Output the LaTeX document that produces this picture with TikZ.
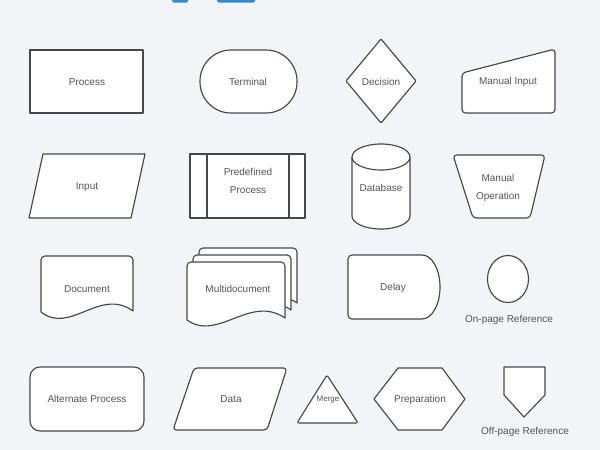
\documentclass[tikz,border=0pt]{standalone}
\usepackage{fontspec}
\setmainfont{Liberation Sans}
\definecolor{bgc}{HTML}{F3F4F8}
\definecolor{edgec}{HTML}{474747}
\definecolor{txtc}{HTML}{555555}
\definecolor{bluec}{HTML}{2E8CD4}
\begin{document}
\begin{tikzpicture}[x=1pt,y=-1pt,
  shp/.style={draw=edgec,fill=white,line width=1.15pt,line join=round},
  lbl/.style={text=txtc,font=\fontsize{10}{18}\selectfont,align=center,inner sep=0pt},
  smalllbl/.style={text=txtc,font=\fontsize{8}{10}\selectfont,inner sep=0pt}]
\fill[bgc] (0,0) rectangle (600,450);
\useasboundingbox (0,0) rectangle (600,450);
% blue bits at top
\fill[bluec,rounded corners=1.5] (172,-4) rectangle (188,2.5);
\fill[bluec,rounded corners=1.5] (217,-4) rectangle (255,2.5);

% Row 1
\draw[shp] (30,50) rectangle (143,113);
\node[lbl] (process) at (87,82) {Process};

\draw[shp,rounded corners=31pt] (200,50) rectangle (297,113);
\node[lbl] (terminal) at (248,82) {Terminal};

\draw[shp,rounded corners=1] (381,39) -- (416,81) -- (381,123) -- (346,81) -- cycle;
\node[lbl] (decision) at (381,82) {Decision};

\draw[shp,rounded corners=3.5] (462,73) -- (555,49) -- (555,113) -- (462,113) -- cycle;
\node[lbl] (manin) at (508,82) {Manual Input};

% Row 2
\draw[shp] (43,154) -- (145,154) -- (131,218) -- (29,218) -- cycle;
\node[lbl] (input) at (87,187) {Input};

\draw[shp] (190,154) rectangle (305,218);
\draw[shp] (207,154) -- (207,218);
\draw[shp] (289,154) -- (289,218);
\node[lbl] (predef) at (248,181) {Predefined\\Process};

\draw[shp] (352,157) -- (352,216) arc[start angle=180,end angle=360,x radius=29pt,y radius=13pt] -- (410,157);
\draw[shp] (381,157) ellipse [x radius=29pt,y radius=13pt];
\node[lbl] (database) at (381,188) {Database};

\draw[shp,rounded corners=3.5] (453,155) -- (545,155) -- (530,218) -- (473,218) -- cycle;
\node[lbl] (manop) at (498,188) {Manual\\Operation};

% Row 3
\draw[shp] (41,312) -- (41,260) arc[start angle=180,end angle=90,radius=4pt] -- (129,256) arc[start angle=90,end angle=0,radius=4pt] -- (133,311) .. controls (100,287) and (70,335) .. (41,312) -- cycle;
\node[lbl] (document) at (87,289) {Document};

% multidocument: back, middle, front
\draw[shp] (199,305) -- (199,252) arc[start angle=180,end angle=90,radius=4pt] -- (293,248) arc[start angle=90,end angle=0,radius=4pt] -- (297,303) .. controls (264,280) and (234,327) .. (199,305) -- cycle;
\draw[shp] (193,312) -- (193,259) arc[start angle=180,end angle=90,radius=4pt] -- (287,255) arc[start angle=90,end angle=0,radius=4pt] -- (291,310) .. controls (258,287) and (228,334) .. (193,312) -- cycle;
\draw[shp] (187,320) -- (187,266) arc[start angle=180,end angle=90,radius=4pt] -- (281,262) arc[start angle=90,end angle=0,radius=4pt] -- (285,318) .. controls (250,294) and (218,342) .. (187,320) -- cycle;
\node[lbl] (multidoc) at (238,289) {Multidocument};

\draw[shp] (352,255) -- (422,255) arc[start angle=90,end angle=-90,x radius=18pt,y radius=32pt] -- (352,319) arc[start angle=270,end angle=180,radius=4pt] -- (348,259) arc[start angle=180,end angle=90,radius=4pt];
\node[lbl] (delay) at (393,288) {Delay};

\draw[shp] (508,279) ellipse [x radius=20.5pt,y radius=23.5pt];
\node[lbl] (onpage) at (509,320) {On-page Reference};

% Row 4
\draw[shp,rounded corners=10] (30,367) rectangle (144,431);
\node[lbl] (altproc) at (87,399) {Alternate Process};

\draw[shp,rounded corners=3.5] (194,368) -- (287,368) -- (267,430) -- (173,430) -- cycle;
\node[lbl] (data) at (231,399) {Data};

\draw[shp,rounded corners=2] (297,423) -- (358,423) -- (327,375) -- cycle;
\node[smalllbl] (merge) at (328,400) {Merge};

\draw[shp] (374,399) -- (398,368) -- (442,368) -- (465,399) -- (442,430) -- (398,430) -- cycle;
\node[lbl] (prep) at (420,400) {Preparation};

\draw[shp] (504,367) -- (545,367) -- (545,395) -- (524,417) -- (504,395) -- cycle;
\node[lbl] (offpage) at (525,432) {Off-page Reference};
\end{tikzpicture}
\end{document}
